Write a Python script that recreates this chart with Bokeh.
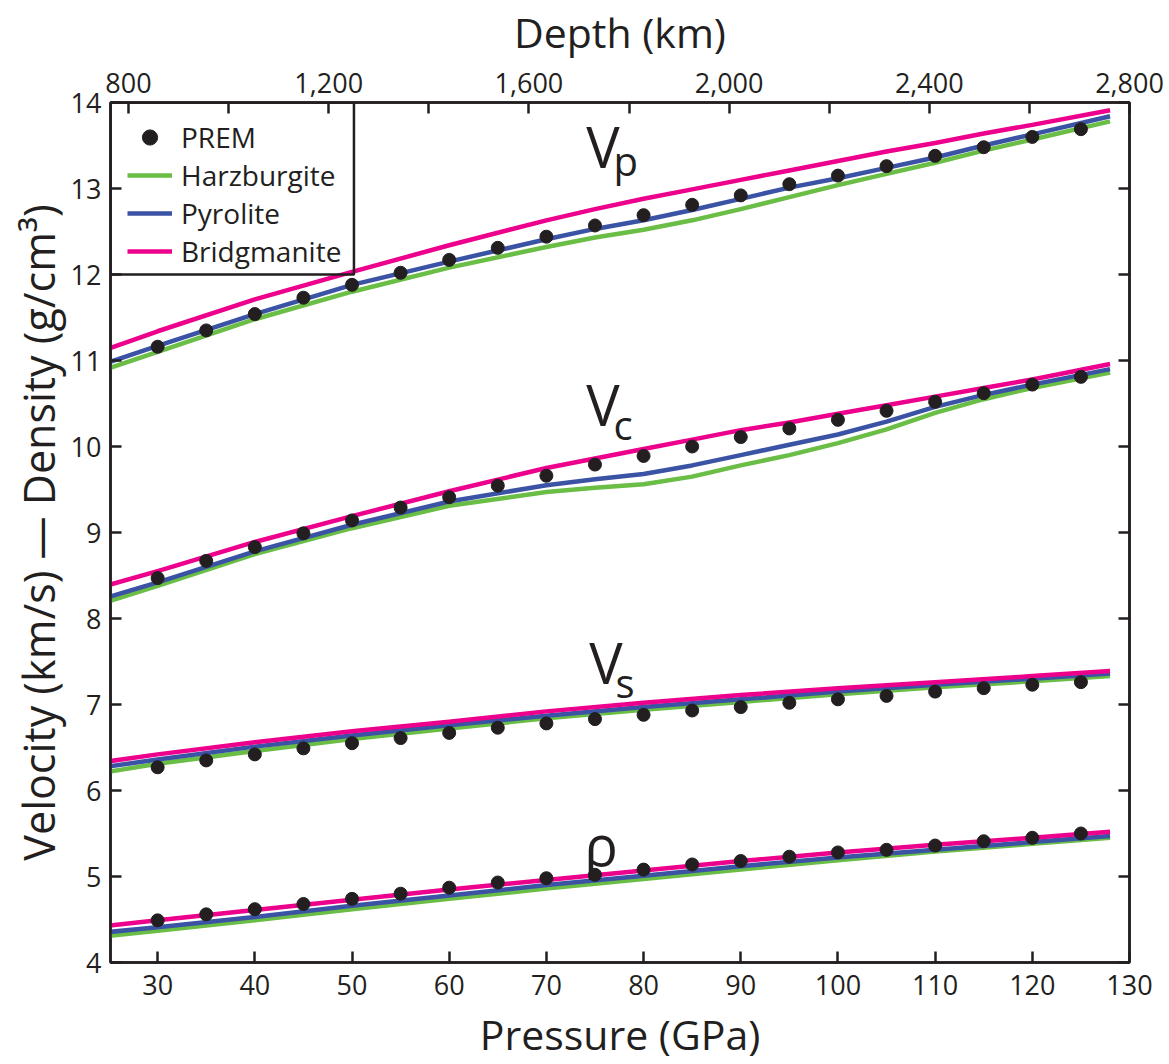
from bokeh.plotting import figure
from bokeh.models import (Range1d, LinearAxis, FixedTicker, NumeralTickFormatter,
                          CustomJSTickFormatter, Legend, LegendItem, BoxAnnotation, Label)
from bokeh.embed import file_html
from bokeh.resources import INLINE

# ---------------- data ----------------
P_FINE = [25, 30, 40, 50, 60, 70, 75, 80, 85, 90, 95, 100, 105, 110, 115, 120, 128]
P_COARSE = [25, 30, 40, 50, 60, 70, 80, 90, 100, 110, 120, 128]
P_PREM = [30, 35, 40, 45, 50, 55, 60, 65, 70, 75, 80, 85, 90, 95, 100, 105, 110, 115, 120, 125]

vp_brg = [11.14, 11.34, 11.71, 12.03, 12.34, 12.63, 12.76, 12.88, 12.99, 13.10, 13.21, 13.32, 13.43, 13.53, 13.64, 13.74, 13.91]
vp_pyr = [10.98, 11.17, 11.54, 11.88, 12.15, 12.41, 12.53, 12.63, 12.75, 12.88, 13.01, 13.12, 13.24, 13.36, 13.50, 13.63, 13.84]
vp_hzb = [10.91, 11.10, 11.48, 11.80, 12.08, 12.32, 12.43, 12.52, 12.63, 12.76, 12.90, 13.04, 13.17, 13.30, 13.44, 13.57, 13.78]

vc_brg = [8.39, 8.55, 8.89, 9.19, 9.48, 9.75, 9.86, 9.97, 10.08, 10.19, 10.28, 10.38, 10.48, 10.58, 10.68, 10.78, 10.96]
vc_pyr = [8.25, 8.42, 8.78, 9.09, 9.36, 9.55, 9.62, 9.68, 9.78, 9.90, 10.02, 10.14, 10.29, 10.46, 10.60, 10.72, 10.90]
vc_hzb = [8.20, 8.38, 8.75, 9.05, 9.31, 9.47, 9.52, 9.56, 9.65, 9.78, 9.90, 10.04, 10.20, 10.39, 10.55, 10.68, 10.86]

vs_brg = [6.34, 6.42, 6.56, 6.69, 6.80, 6.92, 7.02, 7.11, 7.19, 7.26, 7.33, 7.39]
vs_pyr = [6.28, 6.36, 6.51, 6.64, 6.76, 6.87, 6.97, 7.06, 7.15, 7.23, 7.30, 7.36]
vs_hzb = [6.22, 6.31, 6.46, 6.60, 6.72, 6.84, 6.94, 7.03, 7.12, 7.20, 7.27, 7.33]

rho_brg = [4.43, 4.49, 4.61, 4.73, 4.85, 4.96, 5.07, 5.18, 5.28, 5.37, 5.45, 5.52]
rho_pyr = [4.355, 4.41, 4.53, 4.66, 4.78, 4.90, 5.01, 5.12, 5.22, 5.31, 5.40, 5.47]
rho_hzb = [4.31, 4.37, 4.49, 4.62, 4.74, 4.86, 4.97, 5.08, 5.19, 5.29, 5.38, 5.45]

prem_vp = [11.16, 11.35, 11.54, 11.73, 11.88, 12.02, 12.17, 12.31, 12.44, 12.57, 12.69, 12.81, 12.92, 13.05, 13.15, 13.26, 13.38, 13.48, 13.60, 13.69]
prem_vc = [8.47, 8.67, 8.83, 8.99, 9.14, 9.29, 9.41, 9.545, 9.66, 9.79, 9.89, 10.00, 10.11, 10.21, 10.31, 10.415, 10.52, 10.62, 10.72, 10.81]
prem_vs = [6.27, 6.35, 6.42, 6.49, 6.55, 6.61, 6.67, 6.73, 6.78, 6.83, 6.88, 6.93, 6.97, 7.02, 7.06, 7.10, 7.15, 7.19, 7.23, 7.26]
prem_rho = [4.49, 4.56, 4.62, 4.68, 4.74, 4.80, 4.87, 4.93, 4.98, 5.02, 5.08, 5.14, 5.18, 5.23, 5.28, 5.31, 5.36, 5.41, 5.45, 5.50]

X_TICKS = [30, 40, 50, 60, 70, 80, 90, 100, 110, 120, 130]
Y_TICKS = [4, 5, 6, 7, 8, 9, 10, 11, 12, 13, 14]
DEPTH_MAJOR = [800, 1200, 1600, 2000, 2400, 2800]
DEPTH_MINOR = [1000, 1400, 1800, 2200, 2600]
LEGEND_LABELS = ["PREM", "Harzburgite", "Pyrolite", "Bridgmanite"]

# ---------------- style ----------------
FONT = "Open Sans"
INK = "#231f20"
GREEN = "#6abd45"
BLUE = "#3a53a4"
PINK = "#ec008c"
LW = 4.5

p = figure(width=1169, height=1064, x_range=Range1d(25.15, 130), y_range=Range1d(4, 14),
           output_backend="svg", toolbar_location=None,
           min_border_left=110, min_border_right=40, min_border_top=102, min_border_bottom=100)
p.grid.visible = False
p.outline_line_color = INK
p.outline_line_width = 2.5
p.background_fill_color = "white"
p.border_fill_color = "white"

p.extra_x_ranges = {"depth": Range1d(764, 2800)}


def style_axis(ax):
    ax.axis_line_color = INK
    ax.axis_line_width = 2.5
    ax.major_tick_line_color = INK
    ax.major_tick_line_width = 2.5
    ax.major_tick_in = 11
    ax.major_tick_out = 0
    ax.minor_tick_line_color = INK
    ax.minor_tick_line_width = 2.5
    ax.minor_tick_in = 11
    ax.minor_tick_out = 0
    ax.major_label_text_font = FONT
    ax.major_label_text_font_size = "27px"
    ax.major_label_text_color = INK
    ax.axis_label_text_font = FONT
    ax.axis_label_text_font_style = "normal"
    ax.axis_label_text_color = INK


xa = p.xaxis[0]
style_axis(xa)
xa.ticker = FixedTicker(ticks=X_TICKS)
xa.minor_tick_line_color = None
xa.axis_label = "Pressure (GPa)"
xa.axis_label_text_font_size = "41px"
xa.major_label_standoff = 12
xa.axis_label_standoff = 8

ya = p.yaxis[0]
style_axis(ya)
ya.ticker = FixedTicker(ticks=Y_TICKS)
ya.minor_tick_line_color = None
ya.axis_label = "Velocity (km/s) \u2014 Density (g/cm\u00b3)"
ya.axis_label_text_font_size = "43px"
ya.major_label_standoff = 9
ya.axis_label_standoff = 0

top = LinearAxis(x_range_name="depth",
                 ticker=FixedTicker(ticks=DEPTH_MAJOR, minor_ticks=DEPTH_MINOR),
                 formatter=NumeralTickFormatter(format="0,0"))
style_axis(top)
top.axis_label = "Depth (km)"
top.axis_label_text_font_size = "41px"
top.major_label_standoff = 10
top.axis_label_standoff = 10
p.add_layout(top, "above")

right = LinearAxis(ticker=FixedTicker(ticks=Y_TICKS),
                   formatter=CustomJSTickFormatter(code="return ''"))
style_axis(right)
right.minor_tick_line_color = None
right.major_label_standoff = 0
p.add_layout(right, "right")

# ---------------- lines ----------------
groups = [
    (GREEN, [(P_FINE, vp_hzb), (P_FINE, vc_hzb), (P_COARSE, vs_hzb), (P_COARSE, rho_hzb)]),
    (BLUE, [(P_FINE, vp_pyr), (P_FINE, vc_pyr), (P_COARSE, vs_pyr), (P_COARSE, rho_pyr)]),
    (PINK, [(P_FINE, vp_brg), (P_FINE, vc_brg), (P_COARSE, vs_brg), (P_COARSE, rho_brg)]),
]
line_renderers = []
for color, series in groups:
    rs = []
    for xs, ys in series:
        rs.append(p.line(xs, ys, line_color=color, line_width=LW, line_join="round"))
    line_renderers.append(rs[0])

prem_r = None
for ys in (prem_vp, prem_vc, prem_vs, prem_rho):
    r = p.scatter(P_PREM, ys, size=13, fill_color=INK, line_color=INK, marker="circle")
    if prem_r is None:
        prem_r = r

# ---------------- legend ----------------
p.add_layout(BoxAnnotation(left=25.15, right=50.2, bottom=12, top=14,
                           fill_color=None, fill_alpha=0, line_color=INK, line_alpha=1.0,
                           line_width=2.5))
legend = Legend(items=[LegendItem(label=LEGEND_LABELS[0], renderers=[prem_r]),
                       LegendItem(label=LEGEND_LABELS[1], renderers=[line_renderers[0]]),
                       LegendItem(label=LEGEND_LABELS[2], renderers=[line_renderers[1]]),
                       LegendItem(label=LEGEND_LABELS[3], renderers=[line_renderers[2]])],
                location=(17, 692), orientation="vertical",
                label_text_font=FONT, label_text_font_size="28px", label_text_color=INK,
                label_height=38, glyph_height=38, glyph_width=45, label_standoff=9,
                spacing=0, padding=0, margin=0,
                border_line_color=None, background_fill_alpha=0)
p.add_layout(legend, "center")

# ---------------- curve labels ----------------
def lab(x, y, t, size):
    p.add_layout(Label(x=x, y=y, text=t, text_font=FONT, text_font_size=size,
                       text_color=INK, text_baseline="alphabetic", text_align="left"))

lab(74.1, 13.49, "V", "56px")
lab(76.9, 13.33, "p", "40px")
lab(74.1, 10.50, "V", "56px")
lab(76.9, 10.26, "c", "40px")
lab(74.4, 7.50, "V", "56px")
lab(77.1, 7.26, "s", "40px")
lab(73.9, 5.38, "\u03c1", "56px")

open("out.html", "w").write(file_html(p, INLINE))
